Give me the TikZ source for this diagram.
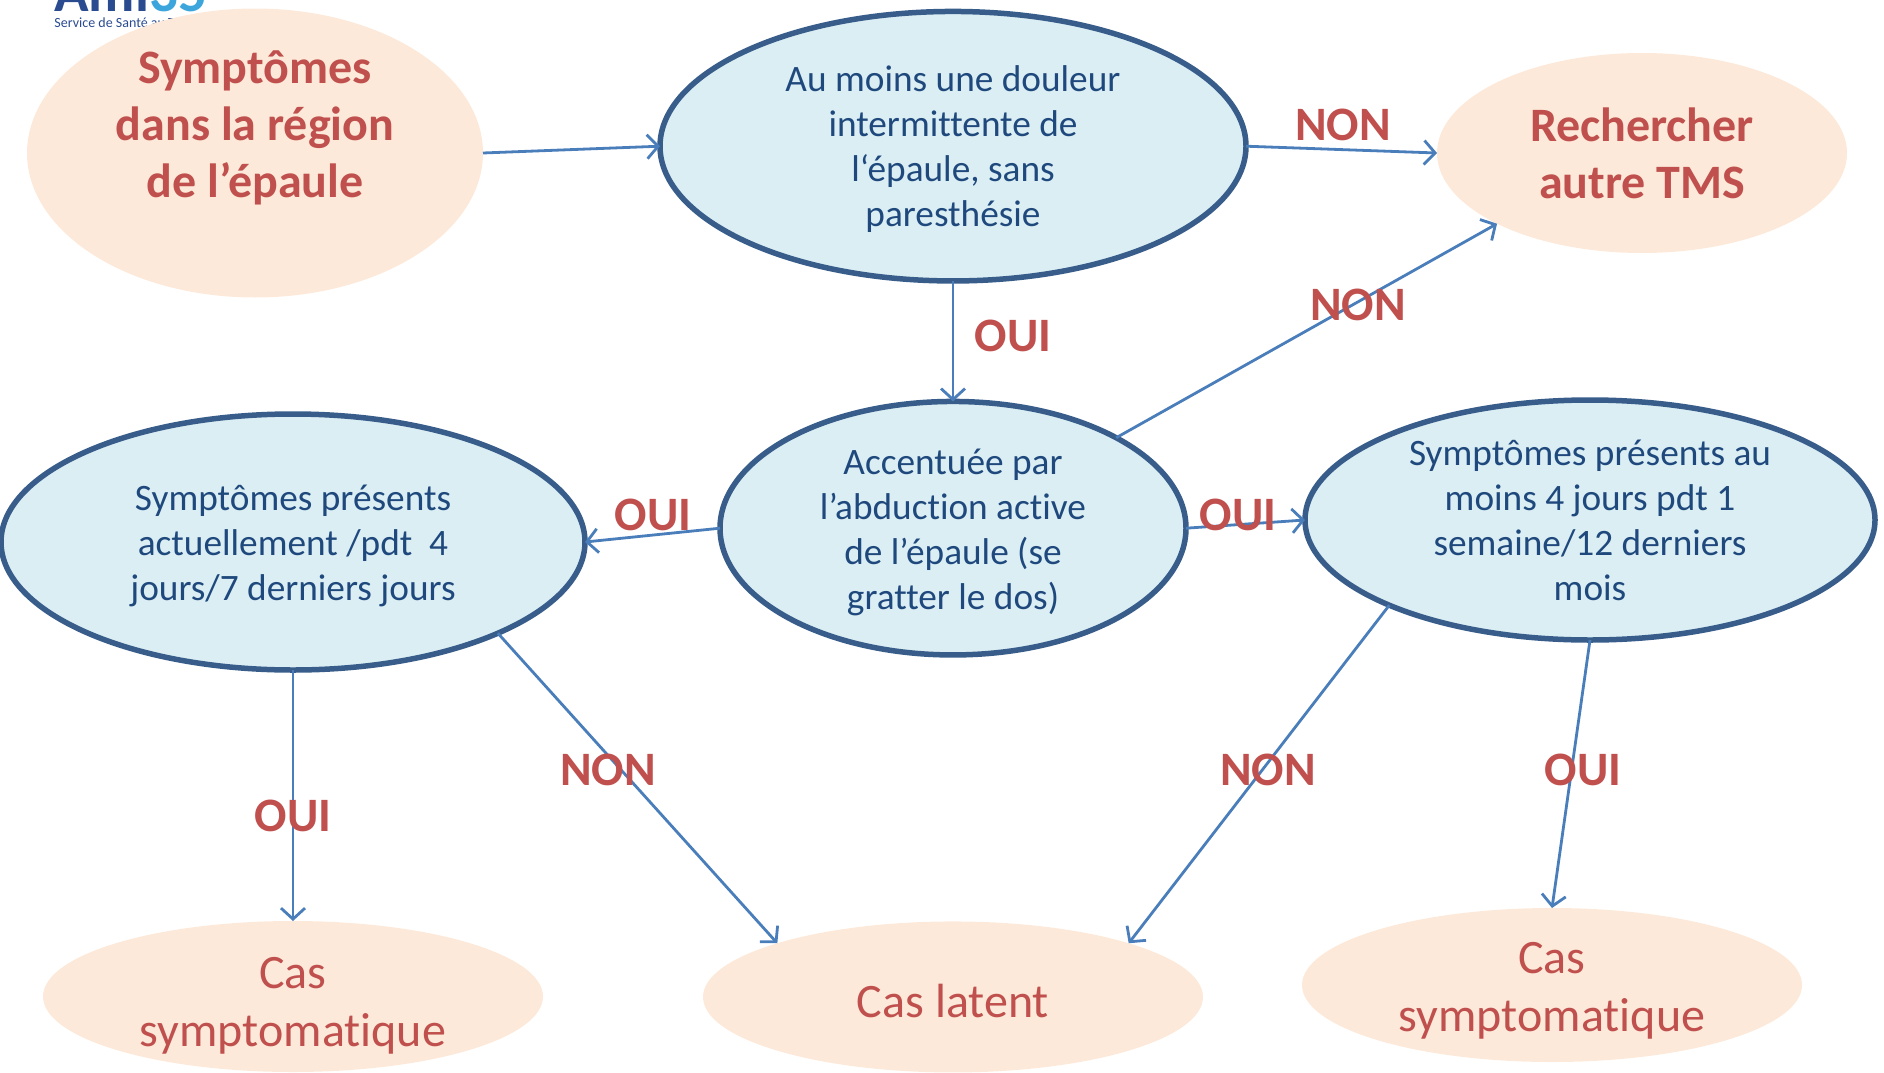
\documentclass[tikz,border=0pt]{standalone}
\usepackage{fontspec}
\setmainfont[Ligatures=CommonOff]{Carlito}
\usetikzlibrary{arrows.meta,shapes.geometric,positioning}
\definecolor{peach}{HTML}{FDE9D9}
\definecolor{paleblue}{HTML}{DBEEF4}
\definecolor{ringblue}{HTML}{385D8A}
\definecolor{inkblue}{HTML}{1F497D}
\definecolor{arrowblue}{HTML}{4A7EBB}
\definecolor{brick}{HTML}{C0504D}
\definecolor{logoblue}{HTML}{2A4B8F}
\definecolor{logosky}{HTML}{3CA6DC}
\newcommand{\linesat}[2]{\raisebox{#1}[0pt][0pt]{\begin{tabular}{@{}c@{}}#2\end{tabular}}}

\begin{document}
\begin{tikzpicture}[
        x=1pt, y=1pt,
        every path/.style={line width=2.8pt},
        question/.style={ellipse, draw=ringblue, line width=5.5pt, fill=paleblue, text=inkblue, align=center, inner sep=0pt, outer sep=0pt, font=\fontsize{37.3}{45}\selectfont},
        outcome/.style={ellipse, fill=peach, text=brick, align=center, inner sep=0pt, outer sep=0pt, font=\fontsize{48}{58}\selectfont},
        headline/.style={outcome, font=\fontsize{48}{57}\selectfont\bfseries},
        answer/.style={text=brick, inner sep=0pt, font=\fontsize{48}{50}\selectfont\bfseries},
        link/.style={draw=arrowblue, -{Straight Barb[length=11pt,width=24pt,line width=2.8pt]}}
    ]
    \useasboundingbox (0,0) rectangle (1884,-1073);

    % Logo
    \node (logoname) [anchor=south west, inner sep=0pt, text=logoblue, font=\fontsize{14}{15}\selectfont] at (53,-29) {Service de Santé au Travail};
    \node (logoword) [above=3pt of logoname.north west, anchor=south west, inner sep=0pt, text=logoblue, font=\fontsize{57}{57}\selectfont\bfseries] {Ami\textcolor{logosky}{35}};

    % Nodes
    \node (start) [headline, minimum width=456pt, minimum height=289pt] at (255,-153) {\linesat{17.6pt}{Symptômes \\ dans la région \\ de l’épaule}};
    \node (pain) [question, right=177pt of start, yshift=6.8pt, minimum width=586pt, minimum height=269.5pt] {\linesat{-9.8pt}{Au moins une douleur \\ intermittente de \\ l‘épaule, sans \\ paresthésie}};
    \node (other) [headline, right=191pt of pain, yshift=-6.8pt, minimum width=410pt, minimum height=200pt] {Rechercher \\ autre TMS};
    \node (abduction) [question, below=120.5pt of pain, minimum width=466pt, minimum height=253.5pt] {\linesat{-11pt}{Accentuée par \\ l’abduction active \\ de l’épaule (se \\ gratter le dos)}};
    \node (current) [question, left=135pt of abduction, yshift=-13.8pt, minimum width=584pt, minimum height=256pt] {\linesat{-11pt}{Symptômes présents \\ actuellement /pdt~~4 \\ jours/7 derniers jours}};
    \node (year) [question, right=119pt of abduction, yshift=8.2pt, minimum width=570pt, minimum height=240pt] {\linesat{-10.4pt}{Symptômes présents au \\ moins 4 jours pdt 1 \\ semaine/12 derniers \\ mois}};
    \node (caseleft) [outcome, below=251pt of current, minimum width=500pt, minimum height=151pt] {\linesat{-15.4pt}{Cas \\ symptomatique}};
    \node (latent) [outcome, below=266.5pt of abduction, minimum width=500pt, minimum height=151pt] {\linesat{-15.4pt}{Cas latent}};
    \node (caseright) [outcome, below=268pt of year, xshift=-38pt, minimum width=500pt, minimum height=154pt] {\linesat{-12pt}{Cas \\ symptomatique}};

    % Edges
    \draw[link] (start.east) -- (pain.west);
    \draw[link] (pain.east) -- (other.west);
    \draw[link] (pain.south) -- (abduction.north);
    \draw[link] (abduction.29) -- (other.206.9);
    \draw[link] (abduction.west) -- (current.east);
    \draw[link] (abduction.east) -- (year.west);
    \draw[link] (current.south) -- (caseleft.north);
    \draw[link] (current.-24.2) -- (latent.163.8);
    \draw[link] (year.203.4) -- (latent.17);
    \draw[link] (year.south) -- (caseright.north);

    % Labels
    \node (nonone) [answer] at (1343,-125) {NON};
    \node (ouione) [answer] at (1013,-336) {OUI};
    \node (nontwo) [answer] at (1358,-305) {NON};
    \node (ouitwo) [answer] at (653,-515) {OUI};
    \node (ouithree) [answer] at (1238,-515) {OUI};
    \node (nonthree) [answer] at (608,-770) {NON};
    \node (nonfour) [answer] at (1268,-770) {NON};
    \node (ouifour) [answer] at (1583,-770) {OUI};
    \node (ouifive) [answer] at (293,-816) {OUI};
\end{tikzpicture}
\end{document}
